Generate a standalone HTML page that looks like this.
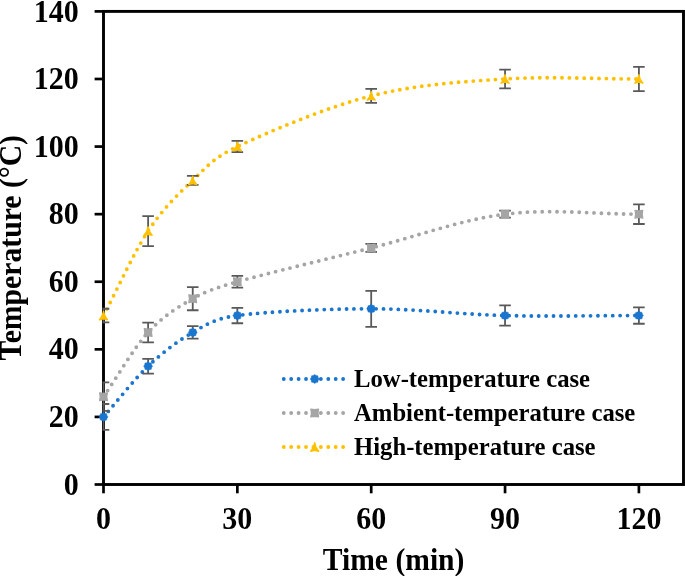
<!DOCTYPE html>
<html><head><meta charset="utf-8"><title>Temperature vs Time</title>
<style>
html,body{margin:0;padding:0;background:#fff;}
body{width:685px;height:576px;overflow:hidden;}
.t{font-family:"Liberation Serif",serif;font-weight:bold;fill:#000;}
</style></head><body>
<svg width="685" height="576" viewBox="0 0 685 576" style="display:block">
<rect width="685" height="576" fill="#fff"/>
<defs><clipPath id="pc"><rect x="102.4" y="0" width="600" height="576"/></clipPath></defs>
<path d="M103.50 416.91 C118.37 400.02 133.24 380.30 148.12 366.22 C162.99 352.14 177.86 340.88 192.73 332.43 C204.56 325.71 213.70 318.67 237.35 315.53 C267.10 311.59 326.58 308.78 371.20 308.78 C415.82 308.78 460.44 314.41 505.05 315.53 C549.67 316.66 594.29 315.53 638.90 315.53" fill="none" stroke="#1a75cf" stroke-width="3.85" stroke-linecap="round" stroke-dasharray="0 7.40"/>
<path d="M103.50 396.64 C118.37 375.24 133.24 348.76 148.12 332.43 C162.99 316.10 177.86 307.09 192.73 298.64 C204.21 292.12 214.40 288.26 237.35 281.74 C267.10 273.29 326.58 259.21 371.20 247.95 C415.82 236.68 460.44 219.79 505.05 214.16 C549.67 208.52 594.29 214.16 638.90 214.16" fill="none" stroke="#a5a5a5" stroke-width="3.85" stroke-linecap="round" stroke-dasharray="0 7.40"/>
<path d="M103.50 315.53 C118.37 287.37 133.24 253.58 148.12 231.05 C162.99 208.52 177.86 194.44 192.73 180.36 C205.38 168.39 212.06 158.54 237.35 146.57 C267.10 132.49 326.58 107.14 371.20 95.88 C415.82 84.62 460.44 81.80 505.05 78.98 C549.67 76.17 594.29 78.98 638.90 78.98" fill="none" stroke="#ffc000" stroke-width="3.85" stroke-linecap="round" stroke-dasharray="0 7.40"/>
<g stroke="#000" stroke-width="2.90" fill="none">
<rect x="103.50" y="11.40" width="580.00" height="473.10"/>
</g><g stroke="#000" stroke-width="2.70">
<line x1="94.6" y1="484.50" x2="103.50" y2="484.50"/>
<line x1="94.6" y1="416.91" x2="103.50" y2="416.91"/>
<line x1="94.6" y1="349.33" x2="103.50" y2="349.33"/>
<line x1="94.6" y1="281.74" x2="103.50" y2="281.74"/>
<line x1="94.6" y1="214.16" x2="103.50" y2="214.16"/>
<line x1="94.6" y1="146.57" x2="103.50" y2="146.57"/>
<line x1="94.6" y1="78.98" x2="103.50" y2="78.98"/>
<line x1="94.6" y1="11.40" x2="103.50" y2="11.40"/>
<line x1="103.50" y1="484.50" x2="103.50" y2="493.3"/>
<line x1="237.35" y1="484.50" x2="237.35" y2="493.3"/>
<line x1="371.20" y1="484.50" x2="371.20" y2="493.3"/>
<line x1="505.05" y1="484.50" x2="505.05" y2="493.3"/>
<line x1="638.90" y1="484.50" x2="638.90" y2="493.3"/>
</g>
<g stroke="#595959" stroke-width="1.8" fill="none" clip-path="url(#pc)">
<path d="M103.50 404.01V429.81M97.70 404.01H109.30M97.70 429.81H109.30"/>
<path d="M148.12 358.82V373.62M142.32 358.82H153.92M142.32 373.62H153.92"/>
<path d="M192.73 326.18V338.68M186.93 326.18H198.53M186.93 338.68H198.53"/>
<path d="M237.35 307.83V323.23M231.55 307.83H243.15M231.55 323.23H243.15"/>
<path d="M371.20 290.78V326.78M365.40 290.78H377.00M365.40 326.78H377.00"/>
<path d="M505.05 305.38V325.68M499.25 305.38H510.85M499.25 325.68H510.85"/>
<path d="M638.90 307.33V323.73M633.10 307.33H644.70M633.10 323.73H644.70"/>
<path d="M103.50 382.39V410.89M97.70 382.39H109.30M97.70 410.89H109.30"/>
<path d="M148.12 322.53V342.33M142.32 322.53H153.92M142.32 342.33H153.92"/>
<path d="M192.73 287.04V310.24M186.93 287.04H198.53M186.93 310.24H198.53"/>
<path d="M237.35 275.84V287.64M231.55 275.84H243.15M231.55 287.64H243.15"/>
<path d="M371.20 243.95V251.95M365.40 243.95H377.00M365.40 251.95H377.00"/>
<path d="M505.05 210.71V217.61M499.25 210.71H510.85M499.25 217.61H510.85"/>
<path d="M638.90 204.31V224.01M633.10 204.31H644.70M633.10 224.01H644.70"/>
<path d="M103.50 308.73V322.33M97.70 308.73H109.30M97.70 322.33H109.30"/>
<path d="M148.12 216.05V246.05M142.32 216.05H153.92M142.32 246.05H153.92"/>
<path d="M192.73 175.86V184.86M186.93 175.86H198.53M186.93 184.86H198.53"/>
<path d="M237.35 140.97V152.17M231.55 140.97H243.15M231.55 152.17H243.15"/>
<path d="M371.20 88.88V102.88M365.40 88.88H377.00M365.40 102.88H377.00"/>
<path d="M505.05 69.53V88.43M499.25 69.53H510.85M499.25 88.43H510.85"/>
<path d="M638.90 66.83V91.13M633.10 66.83H644.70M633.10 91.13H644.70"/>
</g>
<polygon fill="#1a75cf" stroke="#1a75cf" stroke-width="0.5" stroke-linejoin="round" points="103.50,412.46 104.94,413.45 106.65,413.77 106.96,415.48 107.95,416.91 106.96,418.35 106.65,420.06 104.94,420.38 103.50,421.36 102.06,420.38 100.35,420.06 100.04,418.35 99.05,416.91 100.04,415.48 100.35,413.77 102.06,413.45"/>
<polygon fill="#1a75cf" stroke="#1a75cf" stroke-width="0.5" stroke-linejoin="round" points="148.12,361.77 149.55,362.76 151.26,363.08 151.58,364.79 152.57,366.22 151.58,367.66 151.26,369.37 149.55,369.69 148.12,370.67 146.68,369.69 144.97,369.37 144.65,367.66 143.67,366.22 144.65,364.79 144.97,363.08 146.68,362.76"/>
<polygon fill="#1a75cf" stroke="#1a75cf" stroke-width="0.5" stroke-linejoin="round" points="192.73,327.98 194.17,328.97 195.88,329.28 196.20,331.00 197.18,332.43 196.20,333.87 195.88,335.58 194.17,335.90 192.73,336.88 191.30,335.90 189.59,335.58 189.27,333.87 188.28,332.43 189.27,331.00 189.59,329.28 191.30,328.97"/>
<polygon fill="#1a75cf" stroke="#1a75cf" stroke-width="0.5" stroke-linejoin="round" points="237.35,311.08 238.79,312.07 240.50,312.39 240.82,314.10 241.80,315.53 240.82,316.97 240.50,318.68 238.79,319.00 237.35,319.98 235.92,319.00 234.20,318.68 233.89,316.97 232.90,315.53 233.89,314.10 234.20,312.39 235.92,312.07"/>
<polygon fill="#1a75cf" stroke="#1a75cf" stroke-width="0.5" stroke-linejoin="round" points="371.20,304.33 372.64,305.31 374.35,305.63 374.67,307.34 375.65,308.78 374.67,310.21 374.35,311.92 372.64,312.24 371.20,313.23 369.77,312.24 368.06,311.92 367.74,310.21 366.75,308.78 367.74,307.34 368.06,305.63 369.77,305.31"/>
<polygon fill="#1a75cf" stroke="#1a75cf" stroke-width="0.5" stroke-linejoin="round" points="505.05,311.08 506.49,312.07 508.20,312.39 508.52,314.10 509.50,315.53 508.52,316.97 508.20,318.68 506.49,319.00 505.05,319.98 503.62,319.00 501.91,318.68 501.59,316.97 500.60,315.53 501.59,314.10 501.91,312.39 503.62,312.07"/>
<polygon fill="#1a75cf" stroke="#1a75cf" stroke-width="0.5" stroke-linejoin="round" points="638.90,311.08 640.34,312.07 642.05,312.39 642.37,314.10 643.35,315.53 642.37,316.97 642.05,318.68 640.34,319.00 638.90,319.98 637.47,319.00 635.76,318.68 635.44,316.97 634.45,315.53 635.44,314.10 635.76,312.39 637.47,312.07"/>
<polygon fill="#a5a5a5" stroke="#a5a5a5" stroke-width="1.2" stroke-linejoin="round" points="99.60,392.74 103.50,393.34 107.40,392.74 106.80,396.64 107.40,400.54 103.50,399.94 99.60,400.54 100.20,396.64"/>
<polygon fill="#a5a5a5" stroke="#a5a5a5" stroke-width="1.2" stroke-linejoin="round" points="144.22,328.53 148.12,329.13 152.02,328.53 151.42,332.43 152.02,336.33 148.12,335.73 144.22,336.33 144.82,332.43"/>
<polygon fill="#a5a5a5" stroke="#a5a5a5" stroke-width="1.2" stroke-linejoin="round" points="188.83,294.74 192.73,295.34 196.63,294.74 196.03,298.64 196.63,302.54 192.73,301.94 188.83,302.54 189.43,298.64"/>
<polygon fill="#a5a5a5" stroke="#a5a5a5" stroke-width="1.2" stroke-linejoin="round" points="233.45,277.84 237.35,278.44 241.25,277.84 240.65,281.74 241.25,285.64 237.35,285.04 233.45,285.64 234.05,281.74"/>
<polygon fill="#a5a5a5" stroke="#a5a5a5" stroke-width="1.2" stroke-linejoin="round" points="367.30,244.05 371.20,244.65 375.10,244.05 374.50,247.95 375.10,251.85 371.20,251.25 367.30,251.85 367.90,247.95"/>
<polygon fill="#a5a5a5" stroke="#a5a5a5" stroke-width="1.2" stroke-linejoin="round" points="501.15,210.26 505.05,210.86 508.95,210.26 508.35,214.16 508.95,218.06 505.05,217.46 501.15,218.06 501.75,214.16"/>
<polygon fill="#a5a5a5" stroke="#a5a5a5" stroke-width="1.2" stroke-linejoin="round" points="635.00,210.26 638.90,210.86 642.80,210.26 642.20,214.16 642.80,218.06 638.90,217.46 635.00,218.06 635.60,214.16"/>
<polygon fill="#ffc000" stroke="#ffc000" stroke-width="1.4" stroke-linejoin="round" points="103.50,311.23 104.80,315.98 107.50,319.73 103.50,318.74 99.50,319.73 102.20,315.98"/>
<polygon fill="#ffc000" stroke="#ffc000" stroke-width="1.4" stroke-linejoin="round" points="148.12,226.75 149.42,231.50 152.12,235.25 148.12,234.26 144.12,235.25 146.82,231.50"/>
<polygon fill="#ffc000" stroke="#ffc000" stroke-width="1.4" stroke-linejoin="round" points="192.73,176.06 194.03,180.81 196.73,184.56 192.73,183.57 188.73,184.56 191.43,180.81"/>
<polygon fill="#ffc000" stroke="#ffc000" stroke-width="1.4" stroke-linejoin="round" points="237.35,142.27 238.65,147.02 241.35,150.77 237.35,149.78 233.35,150.77 236.05,147.02"/>
<polygon fill="#ffc000" stroke="#ffc000" stroke-width="1.4" stroke-linejoin="round" points="371.20,91.58 372.50,96.33 375.20,100.08 371.20,99.09 367.20,100.08 369.90,96.33"/>
<polygon fill="#ffc000" stroke="#ffc000" stroke-width="1.4" stroke-linejoin="round" points="505.05,74.68 506.35,79.43 509.05,83.18 505.05,82.19 501.05,83.18 503.75,79.43"/>
<polygon fill="#ffc000" stroke="#ffc000" stroke-width="1.4" stroke-linejoin="round" points="638.90,74.68 640.20,79.43 642.90,83.18 638.90,82.19 634.90,83.18 637.60,79.43"/>
<path d="M283.76 379 H347" fill="none" stroke="#1a75cf" stroke-width="3.85" stroke-linecap="round" stroke-dasharray="0 7.42"/>
<polygon fill="#1a75cf" stroke="#1a75cf" stroke-width="0.5" stroke-linejoin="round" points="314.70,374.55 316.14,375.54 317.85,375.85 318.16,377.56 319.15,379.00 318.16,380.44 317.85,382.15 316.14,382.46 314.70,383.45 313.26,382.46 311.55,382.15 311.24,380.44 310.25,379.00 311.24,377.56 311.55,375.85 313.26,375.54"/>
<text x="354" y="387.2" font-size="24.7" class="t">Low-temperature case</text>
<path d="M283.76 413 H347" fill="none" stroke="#a5a5a5" stroke-width="3.85" stroke-linecap="round" stroke-dasharray="0 7.42"/>
<polygon fill="#a5a5a5" stroke="#a5a5a5" stroke-width="1.2" stroke-linejoin="round" points="310.80,409.10 314.70,409.70 318.60,409.10 318.00,413.00 318.60,416.90 314.70,416.30 310.80,416.90 311.40,413.00"/>
<text x="354" y="421.2" font-size="24.7" class="t">Ambient-temperature case</text>
<path d="M283.76 447 H347" fill="none" stroke="#ffc000" stroke-width="3.85" stroke-linecap="round" stroke-dasharray="0 7.42"/>
<polygon fill="#ffc000" stroke="#ffc000" stroke-width="1.4" stroke-linejoin="round" points="314.70,442.70 316.00,447.45 318.70,451.20 314.70,450.21 310.70,451.20 313.40,447.45"/>
<text x="354" y="455.2" font-size="24.7" class="t">High-temperature case</text>
<text transform="translate(78.7 494.60) scale(1 1.07)" font-size="30" text-anchor="end" class="t">0</text>
<text transform="translate(78.7 427.01) scale(1 1.07)" font-size="30" text-anchor="end" class="t">20</text>
<text transform="translate(78.7 359.43) scale(1 1.07)" font-size="30" text-anchor="end" class="t">40</text>
<text transform="translate(78.7 291.84) scale(1 1.07)" font-size="30" text-anchor="end" class="t">60</text>
<text transform="translate(78.7 224.26) scale(1 1.07)" font-size="30" text-anchor="end" class="t">80</text>
<text transform="translate(78.7 156.67) scale(1 1.07)" font-size="30" text-anchor="end" class="t">100</text>
<text transform="translate(78.7 89.08) scale(1 1.07)" font-size="30" text-anchor="end" class="t">120</text>
<text transform="translate(78.7 21.50) scale(1 1.07)" font-size="30" text-anchor="end" class="t">140</text>
<text transform="translate(103.50 528.9) scale(1 1.07)" font-size="30" text-anchor="middle" class="t">0</text>
<text transform="translate(237.35 528.9) scale(1 1.07)" font-size="30" text-anchor="middle" class="t">30</text>
<text transform="translate(371.20 528.9) scale(1 1.07)" font-size="30" text-anchor="middle" class="t">60</text>
<text transform="translate(505.05 528.9) scale(1 1.07)" font-size="30" text-anchor="middle" class="t">90</text>
<text transform="translate(638.90 528.9) scale(1 1.07)" font-size="30" text-anchor="middle" class="t">120</text>
<text transform="translate(393.6 570) scale(1 1.04)" font-size="29.6" text-anchor="middle" class="t">Time (min)</text>
<text transform="translate(20.6 247.7) rotate(-90) scale(1 1.05)" font-size="29.7" text-anchor="middle" class="t">Temperature (°C)</text>
</svg>
</body></html>
